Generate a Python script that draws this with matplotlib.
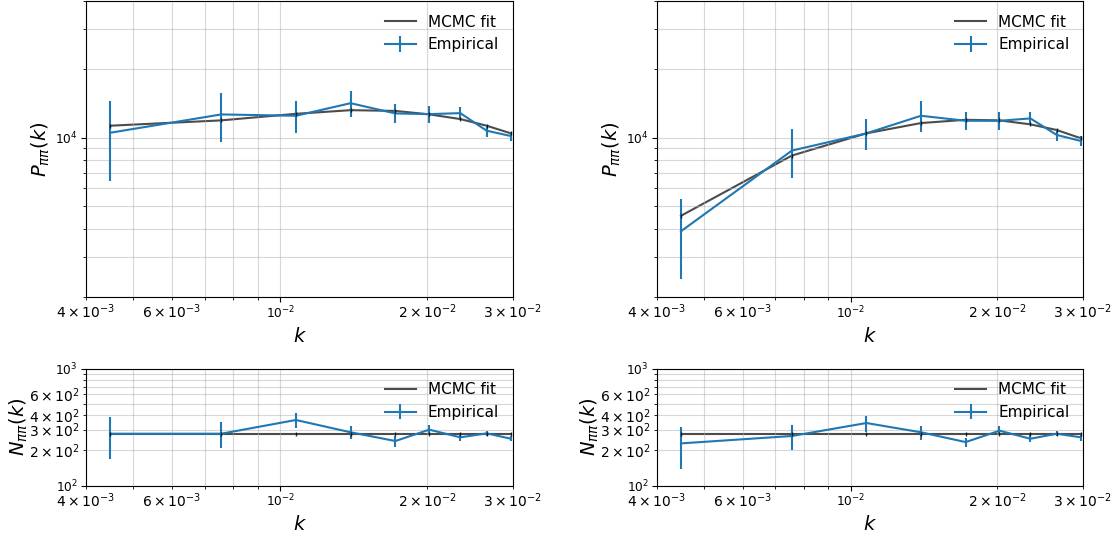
import matplotlib
matplotlib.use("Agg")
import matplotlib.pyplot as plt
import numpy as np

# ---- data ----
k = [0.00448, 0.00757, 0.01077, 0.01394, 0.01722, 0.02021, 0.02339, 0.02650, 0.02970]

P_emp_left = [10540, 12690, 12520, 14220, 12820, 12730, 12860, 10760, 10200]
P_err_left = [4050, 3050, 1960, 1825, 1220, 1130, 780, 680, 475]
P_fit_left = [11320, 11950, 12770, 13250, 13150, 12700, 12110, 11320, 10480]

P_emp_right = [3890, 8800, 10480, 12520, 11900, 11900, 12190, 10310, 9700]
P_err_right = [1500, 2120, 1590, 1950, 1100, 1060, 780, 660, 460]
P_fit_right = [4550, 8370, 10480, 11630, 12020, 11950, 11480, 10840, 9970]

N_emp_left = [277, 277, 363, 285, 240, 300, 258, 279, 251]
N_err_left = [108, 69, 55, 36, 25, 26, 19, 14, 12]
N_fit_left = [277] * 9

N_emp_right = [229, 265, 342, 285, 235, 294, 251, 277, 258]
N_err_right = [90, 64, 53, 38, 22, 26, 17, 13, 16]
N_fit_right = [277] * 9

W, H = 1114, 536
fig = plt.figure(figsize=(W / 100, H / 100), dpi=100)


def ax_at(x0, x1, y0, y1):
    return fig.add_axes([x0 / W, 1 - y1 / H, (x1 - x0) / W, (y1 - y0) / H])


def panel(ax, emp, err, fit, ylim, ylabel, ylab_x):
    ax.errorbar(k, emp, yerr=err, color="C0", lw=1.5, label="Empirical", zorder=2)
    ax.plot(k, fit, color="k", alpha=0.7, lw=1.5, label="MCMC fit", zorder=1)
    ax.plot(k, fit, ls="none", marker="|", ms=3, color="k", alpha=0.8, zorder=3)
    ax.set_xscale("log")
    ax.set_yscale("log")
    ax.set_xlim(4e-3, 3e-2)
    ax.set_ylim(*ylim)
    ax.grid(True, which="both", color="#b0b0b0", alpha=0.5, lw=0.8)
    ax.tick_params(labelsize=8.7)
    ax.tick_params(axis="x", which="both", pad=2)
    ax.tick_params(axis="y", which="both", pad=2.5)
    ax.set_xlabel(r"$k$", fontsize=14)
    ax.set_ylabel(ylabel, fontsize=14)
    ax.yaxis.set_label_coords(ylab_x, 0.5)
    h, l = ax.get_legend_handles_labels()
    order = [l.index("MCMC fit"), l.index("Empirical")]
    ax.legend([h[i] for i in order], [l[i] for i in order], loc="upper right",
              frameon=False, fontsize=11)


panel(ax_at(86, 513, 1, 297), P_emp_left, P_err_left, P_fit_left, (2e3, 4e4),
      r"$P_{\pi\pi}(k)$", -0.080)
panel(ax_at(657, 1083, 1, 297), P_emp_right, P_err_right, P_fit_right, (2e3, 4e4),
      r"$P_{\pi\pi}(k)$", -0.080)
panel(ax_at(86, 513, 368.5, 485.5), N_emp_left, N_err_left, N_fit_left, (1e2, 1e3),
      r"$N_{\pi\pi}(k)$", -0.131)
panel(ax_at(657, 1083, 368.5, 485.5), N_emp_right, N_err_right, N_fit_right, (1e2, 1e3),
      r"$N_{\pi\pi}(k)$", -0.131)

fig.savefig("out.png", dpi=100)
